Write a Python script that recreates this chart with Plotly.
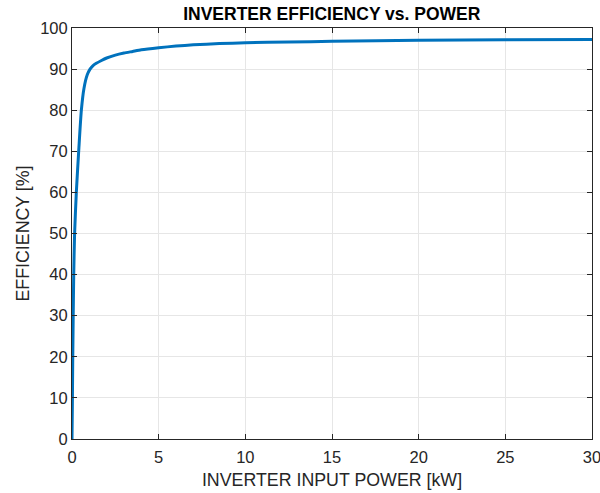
import plotly.graph_objects as go

power_kw = [0, 0.02, 0.04, 0.07, 0.1, 0.15, 0.25, 0.4, 0.54, 0.69, 0.88, 1.04,
            1.2, 1.4, 1.7, 2.0, 2.5, 3.0, 3.5, 4.0, 5, 6, 7, 8.5, 10, 12.5, 15, 20, 25, 30]
efficiency = [0, 8, 18, 30, 40, 50, 60, 71, 80, 85.3, 88.6, 90,
              90.8, 91.4, 92.1, 92.7, 93.4, 93.9, 94.3, 94.7, 95.2, 95.6, 95.9, 96.2, 96.4,
              96.6, 96.75, 97.0, 97.15, 97.2]
x_ticks = [0, 5, 10, 15, 20, 25, 30]
y_ticks = [0, 10, 20, 30, 40, 50, 60, 70, 80, 90, 100]

FONT = "Liberation Sans, Arial, sans-serif"
AX = "#262626"

fig = go.Figure()
fig.add_trace(go.Scatter(x=power_kw, y=efficiency, mode="lines",
                         line=dict(color="#0072BD", width=3, shape="spline", smoothing=0.6),
                         showlegend=False))

axis_common = dict(showline=True, linecolor=AX, linewidth=1, mirror="ticks",
                   ticks="inside", ticklen=5, tickcolor=AX, tickwidth=1,
                   showgrid=True, gridcolor="#e6e6e6", gridwidth=1, zeroline=False,
                   ticklabeloverflow="allow", automargin=False,
                   tickfont=dict(family=FONT, size=16.5, color=AX))

fig.update_layout(
    width=600, height=493,
    margin=dict(l=72, r=8, t=28, b=54),
    paper_bgcolor="white", plot_bgcolor="white",
    title=dict(text="<b>INVERTER EFFICIENCY vs. POWER</b>", x=0.553, xanchor="center",
               y=0.972, yanchor="middle",
               font=dict(family=FONT, size=17.5, color="black")),
    xaxis=dict(range=[0, 30], tickvals=x_ticks, ticklabelstandoff=3,
               title=dict(text="INVERTER INPUT POWER [kW]", standoff=8,
                          font=dict(family=FONT, size=17.8, color=AX)),
               **axis_common),
    yaxis=dict(range=[0, 100], tickvals=y_ticks,
               title=dict(text="EFFICIENCY [%]", standoff=5,
                          font=dict(family=FONT, size=17.8, color=AX)),
               **axis_common),
)

fig.write_html("out.html")
